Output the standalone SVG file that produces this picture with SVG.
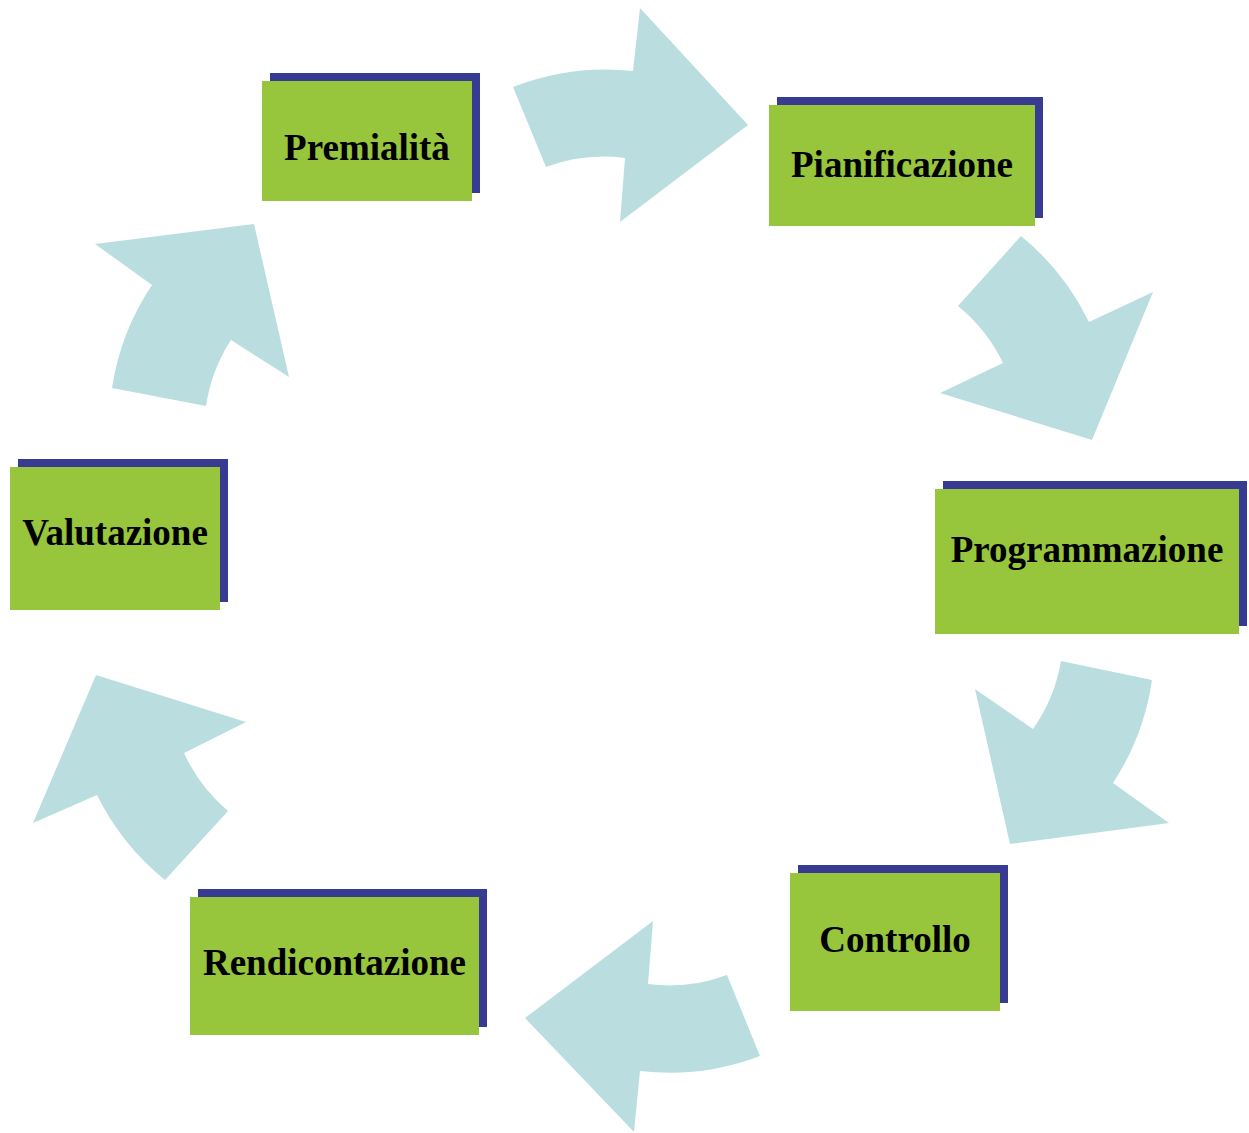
<svg xmlns="http://www.w3.org/2000/svg" width="1249" height="1133" viewBox="0 0 1249 1133">
  <style>
    .arrow { fill: #BADEE0; stroke: none; }
    .shadow { fill: #373C92; }
    .box { fill: #97C53C; }
    .label { font-family: "Liberation Serif", "Times New Roman", serif; font-weight: bold; font-size: 37px; fill: #000000; text-anchor: middle; }
  </style>
  <rect width="1249" height="1133" fill="#FFFFFF"/>

  <!-- curved cycle arrows (clockwise) -->
  <g id="connectors">
    <path class="arrow" d="M513,87 A253,253 0 0 1 633,71 L640,8 L748,125 L620,222 L625,158 A166,166 0 0 0 546,167 Z"/>
    <path class="arrow" d="M1021,236 A253,253 0 0 1 1089,322 L1153,292 L1092,440 L940,393 L1003,363 A166,166 0 0 0 958,306 Z"/>
    <path class="arrow" d="M1152,680 A253,253 0 0 1 1113,783 L1169,823 L1010,844 L975,689 L1033,729 A166,166 0 0 0 1061,661 Z"/>
    <path class="arrow" d="M760,1056 A253,253 0 0 1 640,1071 L634,1132 L525,1018 L653,921 L648,984 A166,166 0 0 0 727,975 Z"/>
    <path class="arrow" d="M165,880 A253,253 0 0 1 97,795 L33,823 L96,675 L246,722 L184,753 A166,166 0 0 0 228,811 Z"/>
    <path class="arrow" d="M112,388 A253,253 0 0 1 152,285 L95,244 L254,224 L289,377 L231,340 A166,166 0 0 0 206,406 Z"/>
  </g>

  <!-- step boxes: blue offset shadow behind a green panel -->
  <g id="premialita">
    <rect class="shadow" x="270" y="73" width="210" height="120"/>
    <rect class="box" x="262" y="81" width="210" height="120"/>
    <text class="label" x="367" y="160">Premialità</text>
  </g>
  <g id="pianificazione">
    <rect class="shadow" x="777" y="97" width="266" height="121"/>
    <rect class="box" x="769" y="105" width="266" height="121"/>
    <text class="label" x="902" y="177">Pianificazione</text>
  </g>
  <g id="programmazione">
    <rect class="shadow" x="943" y="481" width="304" height="145"/>
    <rect class="box" x="935" y="489" width="304" height="145"/>
    <text class="label" x="1087" y="562">Programmazione</text>
  </g>
  <g id="controllo">
    <rect class="shadow" x="798" y="865" width="210" height="138"/>
    <rect class="box" x="790" y="873" width="210" height="138"/>
    <text class="label" x="895" y="952">Controllo</text>
  </g>
  <g id="rendicontazione">
    <rect class="shadow" x="198" y="889" width="289" height="138"/>
    <rect class="box" x="190" y="897" width="289" height="138"/>
    <text class="label" x="334.5" y="975">Rendicontazione</text>
  </g>
  <g id="valutazione">
    <rect class="shadow" x="18" y="459" width="210" height="143"/>
    <rect class="box" x="10" y="467" width="210" height="143"/>
    <text class="label" x="115" y="545">Valutazione</text>
  </g>
</svg>
